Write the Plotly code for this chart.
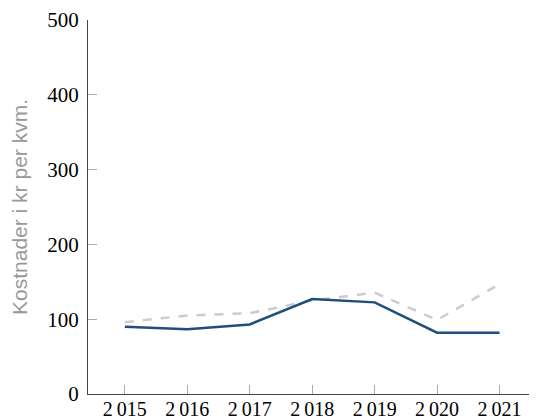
import plotly.graph_objects as go

years = [2015, 2016, 2017, 2018, 2019, 2020, 2021]
year_labels = ["2\u2009015", "2\u2009016", "2\u2009017", "2\u2009018", "2\u2009019", "2\u2009020", "2\u2009021"]
series_solid = [90, 86.5, 93, 127, 122.5, 82, 82]
series_dashed = [96, 105, 108, 125, 135.5, 99, 147]
y_ticks = [0, 100, 200, 300, 400, 500]

fig = go.Figure()
fig.add_trace(go.Scatter(x=years, y=series_dashed, mode="lines",
                         line=dict(color="#cccccc", width=2.5, dash="dash"),
                         showlegend=False))
fig.add_trace(go.Scatter(x=years, y=series_solid, mode="lines",
                         line=dict(color="#1f4e7d", width=2.5),
                         showlegend=False))

# page body has an 8px margin, so the figure is offset by 8px
fig.update_layout(
    width=529, height=411,
    margin=dict(l=80, r=0, t=12, b=25),
    plot_bgcolor="white", paper_bgcolor="white",
    font=dict(family="Liberation Serif", size=21, color="black"),
    xaxis=dict(range=[2014.41, 2021.6], tickvals=years,
               ticktext=year_labels, automargin=False,
               tickfont=dict(size=20), ticklabelstandoff=-3,
               showgrid=False, zeroline=False, showline=True,
               linecolor="#444444", linewidth=1.2,
               ticks="inside", ticklen=9, tickcolor="#aaaaaa", tickwidth=1),
    yaxis=dict(range=[0, 500], tickvals=y_ticks, automargin=False,
               showgrid=False, zeroline=False, showline=True,
               linecolor="#444444", linewidth=1.2,
               ticks="inside", ticklen=9, tickcolor="#aaaaaa", tickwidth=1,
               ticklabelstandoff=4,
               title=dict(text="Kostnader i kr per kvm.",
                          font=dict(family="Liberation Sans", size=21, color="#999999"),
                          standoff=18)),
)

fig.write_html("out.html")
